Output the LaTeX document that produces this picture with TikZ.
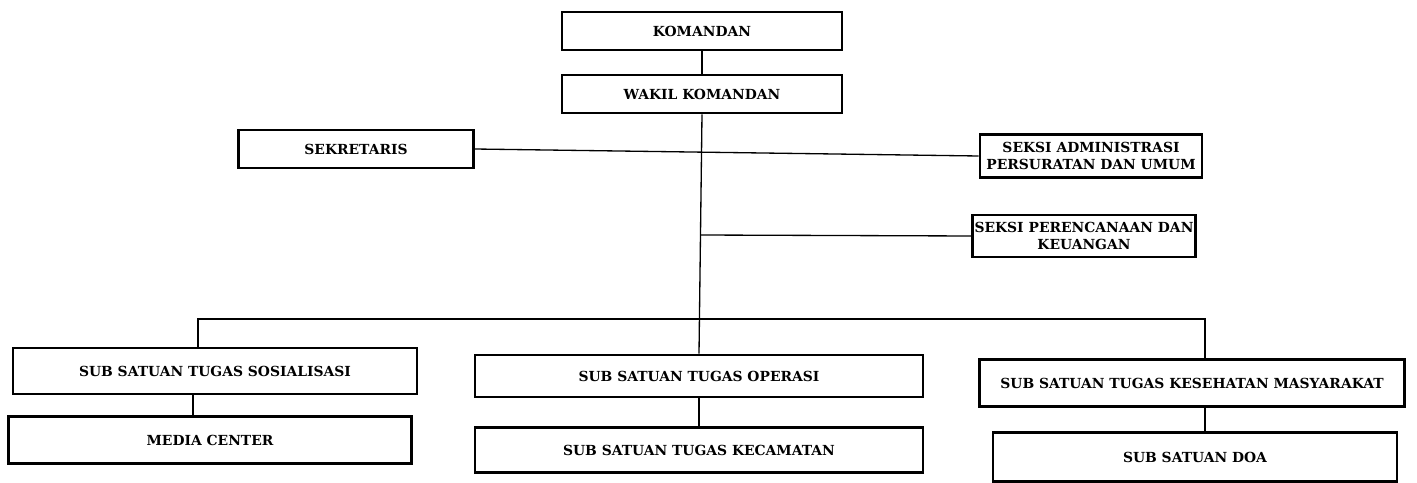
\documentclass[tikz,border=0pt]{standalone}
\usepackage{fontspec}
\setmainfont{DejaVu Serif}
\usetikzlibrary{positioning}

\begin{document}
\begin{tikzpicture}[x=0.02cm,y=-0.02cm,
  unit/.style={draw=black, line width=1.5pt, fill=white, align=center, inner sep=1pt,
    font=\bfseries\fontsize{7.9}{9.4}\selectfont},
  link/.style={draw=black, line width=0.75pt}]
\useasboundingbox (0,0) rectangle (1417,483);
\node[unit, minimum width=5.6cm, minimum height=0.76cm] (kom) at (702,31) {KOMANDAN};
\node[unit, minimum width=5.6cm, minimum height=0.76cm] (wak) at (702,94) {WAKIL KOMANDAN};
\node[unit, minimum width=4.7cm, minimum height=0.76cm] (sek) at (356,149) {SEKRETARIS};
\node[unit, minimum width=4.44cm, minimum height=0.86cm] (adm) at (1091,156) {SEKSI ADMINISTRASI\\PERSURATAN DAN UMUM};
\node[unit, minimum width=4.42cm, minimum height=0.84cm] (ren) at (1084,236) {SEKSI PERENCANAAN DAN\\KEUANGAN};
\node[unit, minimum width=8.08cm, minimum height=0.92cm] (sos) at (215,371) {SUB SATUAN TUGAS SOSIALISASI};
\node[unit, minimum width=8.06cm, minimum height=0.94cm] (med) at (210,440) {MEDIA CENTER};
\node[unit, minimum width=8.96cm, minimum height=0.84cm] (ops) at (699,376) {SUB SATUAN TUGAS OPERASI};
\node[unit, minimum width=8.96cm, minimum height=0.9cm] (kec) at (699,450) {SUB SATUAN TUGAS KECAMATAN};
\node[unit, minimum width=8.5cm, minimum height=0.94cm] (kes) at (1192,383) {SUB SATUAN TUGAS KESEHATAN MASYARAKAT};
\node[unit, minimum width=8.08cm, minimum height=0.98cm] (doa) at (1195,457) {SUB SATUAN DOA};
\coordinate (jr) at (700,235);
\coordinate (busL) at (198,319);
\coordinate (busR) at (1205,319);
\coordinate (mc) at (193,0);
\draw[link] (kom.south) -- (wak.north);
\draw[link] (wak.south) -- (ops.north);
\draw[link] (sek.east) -- (adm.west);
\draw[link] (jr) -- (ren.west);
\draw[link] (busL |- sos.north) -- (busL) -- (busR) -- (busR |- kes.north);
\draw[link] (sos.south -| mc) -- (med.north -| mc);
\draw[link] (ops.south) -- (kec.north);
\draw[link] (kes.south -| busR) -- (doa.north -| busR);
\end{tikzpicture}
\end{document}
